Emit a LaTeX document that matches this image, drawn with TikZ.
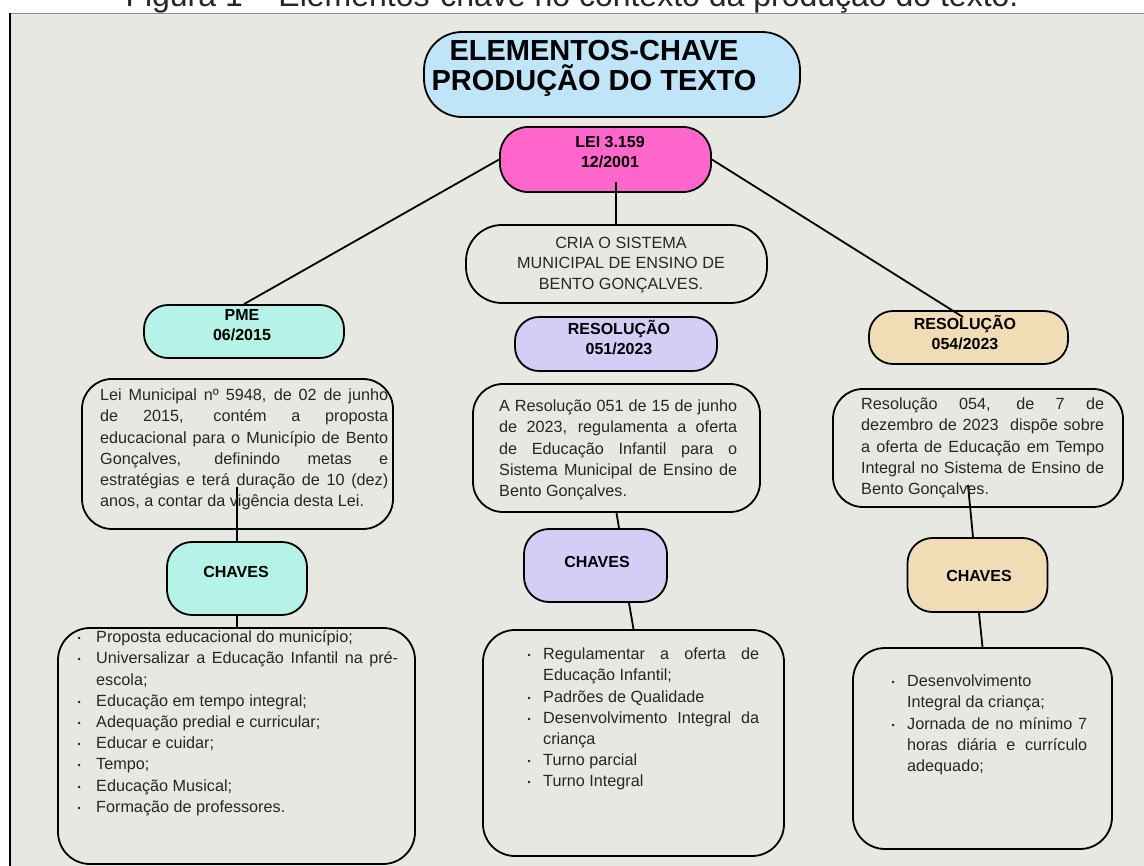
\documentclass[tikz,border=0pt]{standalone}
\usepackage{fontspec}
\setmainfont{Liberation Sans}
\setlength{\parindent}{0pt}
\setlength{\parskip}{0pt}
\lineskiplimit=-100pt
\hyphenpenalty=10000
\tolerance=10000
\hbadness=10000
\definecolor{panel}{HTML}{E8E8E3}
\definecolor{titleblue}{HTML}{C0E4F8}
\definecolor{leipink}{HTML}{FF66CC}
\definecolor{cyanbox}{HTML}{B5F2E8}
\definecolor{lavbox}{HTML}{D4CDF5}
\definecolor{tanbox}{HTML}{F1DDB5}
\definecolor{txtgray}{HTML}{262626}
\definecolor{topline}{HTML}{8C8C8C}
\newcommand{\itm}[1]{\leavevmode\llap{\raisebox{1pt}{\fontsize{9}{9}\selectfont\textbullet}\hspace{#1}}\ignorespaces}
\tikzset{
  rbox/.style={draw=black, line width=1.8pt, rounded corners=#1, inner sep=0pt, fill=panel},
  rbox/.default=25pt,
  conn/.style={draw=black, line width=1.8pt},
  lbl/.style={inner sep=0pt, align=center, text=black, font=\bfseries\fontsize{16}{20}\selectfont},
  body/.style={inner sep=0pt, text=txtgray, font=\fontsize{16.2}{21.2}\selectfont, align=justify, anchor=north west},
}
\begin{document}
\begin{tikzpicture}[x=1pt,y=-1pt]
\useasboundingbox (0,0) rectangle (1144,866);
\clip (0,0) rectangle (1144,866);
\fill[white] (0,0) rectangle (1144,866);
\node[inner sep=0pt, anchor=base, text=txtgray, font=\fontsize{32}{32}\selectfont] (cap) at (572,7) {Figura 1 – Elementos-chave no contexto da produção do texto.};
\fill[panel] (10,13) rectangle (1144,866);
\draw[topline, line width=1.5pt] (10,13.5) -- (1144,13.5);
\draw[black, line width=2pt] (10,13) -- (10,866);

% boxes
\node[rbox=38pt, fill=titleblue, minimum width=376pt, minimum height=85pt] (title) at (612,74.5) {};
\node[rbox=28pt, fill=leipink, minimum width=211pt, minimum height=65pt] (lei) at (605.5,159.5) {};
\node[rbox=36pt, minimum width=301pt, minimum height=78pt] (cria) at (616.5,264) {};
\node[rbox=24pt, fill=cyanbox, minimum width=200pt, minimum height=53pt] (pme) at (244,331.5) {};
\node[rbox=24pt, fill=lavbox, minimum width=202pt, minimum height=54pt] (res51) at (616,344) {};
\node[rbox=24pt, fill=tanbox, minimum width=199pt, minimum height=53pt] (res54) at (968.5,337.5) {};
\node[rbox=30pt, minimum width=311pt, minimum height=150pt] (pmed) at (237.5,454) {};
\node[rbox=30pt, minimum width=287pt, minimum height=128pt] (d51) at (616.5,448) {};
\node[rbox=30pt, minimum width=290pt, minimum height=118pt] (d54) at (978,448) {};
\node[rbox=25pt, fill=cyanbox, minimum width=140pt, minimum height=73pt] (ch1) at (237,578.5) {};
\node[rbox=25pt, fill=lavbox, minimum width=143pt, minimum height=73pt] (ch2) at (595.5,565.5) {};
\node[rbox=25pt, fill=tanbox, minimum width=140pt, minimum height=74pt] (ch3) at (977.5,575) {};
\node[rbox=32pt, minimum width=357pt, minimum height=236pt] (l1) at (236.5,746) {};
\node[rbox=32pt, minimum width=301pt, minimum height=226pt] (l2) at (633.5,743) {};
\node[rbox=32pt, minimum width=259pt, minimum height=201pt] (l3) at (982.5,748.5) {};

% connectors
\coordinate (leiin) at (616,182);
\coordinate (pmein) at (237,487);
\coordinate (d54in) at (968,485);
\draw[conn] (lei.west) -- (pme.north);
\draw[conn] (lei.east) -- ([xshift=-5.5pt,yshift=-7pt]res54.north);
\draw[conn] (leiin) -- (leiin |- cria.north);
\draw[conn] (pmein) -- (pmein |- ch1.north);
\draw[conn] (ch1.south) -- (ch1.south |- l1.north);
\draw[conn] (d51.south) -- ([xshift=23.5pt]ch2.north);
\draw[conn] ([xshift=33.5pt]ch2.south) -- (l2.north);
\draw[conn] (d54in) -- ([xshift=-4.5pt]ch3.north);
\draw[conn] ([xshift=1.5pt]ch3.south) -- (l3.north);

% labels
\node[lbl, anchor=north, font=\bfseries\fontsize{29}{30}\selectfont] (titletxt) at (594,39) {\strut ELEMENTOS-CHAVE\\PRODUÇÃO DO TEXTO};
\node[lbl, anchor=north] (leitxt) at (610,133.7) {\strut LEI 3.159\\12/2001};
\node[inner sep=0pt, align=center, text=txtgray, font=\fontsize{16.2}{20.5}\selectfont, anchor=north] (criatxt) at (621,233.5) {\strut CRIA O SISTEMA\\MUNICIPAL DE ENSINO DE\\BENTO GONÇALVES.};
\node[lbl, anchor=north] (pmetxt) at (242,306.7) {\strut PME\\06/2015};
\node[lbl, anchor=north] (res51txt) at (619,319.7) {\strut RESOLUÇÃO\\051/2023};
\node[lbl, anchor=north] (res54txt) at (965,314.7) {\strut RESOLUÇÃO\\054/2023};
\node[lbl] (ch1txt) at (236,572) {CHAVES};
\node[lbl] (ch2txt) at (597,562) {CHAVES};
\node[lbl] (ch3txt) at (979,576) {CHAVES};

% descriptions
\node[body, text width=288pt] (pmedtxt) at (100,385.66) {\strut Lei Municipal nº 5948, de 02 de junho\linebreak de 2015, contém a proposta\linebreak educacional para o Município de Bento\linebreak Gonçalves, definindo metas e\linebreak estratégias e terá duração de 10 (dez)\linebreak anos, a contar da vigência desta Lei.};
\node[body, text width=238pt] (d51txt) at (499,396.66) {\strut A Resolução 051 de 15 de junho\linebreak de 2023, regulamenta a oferta\linebreak de Educação Infantil para o\linebreak Sistema Municipal de Ensino de\linebreak Bento Gonçalves.};
\node[body, text width=243pt] (d54txt) at (861,394.66) {\strut Resolução 054, de 7 de\linebreak dezembro de 2023~ dispõe sobre\linebreak a oferta de Educação em Tempo\linebreak Integral no Sistema de Ensino de\linebreak Bento Gonçalves.};

% lists
\node[body, text width=302pt] (l1txt) at (96,627.66) {%
\itm{15.4pt}\strut Proposta educacional do município;\par
\itm{15.4pt}Universalizar a Educação Infantil na pré-\linebreak escola;\par
\itm{15.4pt}Educação em tempo integral;\par
\itm{15.4pt}Adequação predial e curricular;\par
\itm{15.4pt}Educar e cuidar;\par
\itm{15.4pt}Tempo;\par
\itm{15.4pt}Educação Musical;\par
\itm{15.4pt}Formação de professores.};
\node[body, text width=216pt] (l2txt) at (543,644.66) {%
\itm{12.4pt}\strut Regulamentar a oferta de\linebreak Educação Infantil;\par
\itm{12.4pt}Padrões de Qualidade\par
\itm{12.4pt}Desenvolvimento Integral da\linebreak criança\par
\itm{12.4pt}Turno parcial\par
\itm{12.4pt}Turno Integral};
\node[body, text width=180pt] (l3txt) at (907,671.66) {%
\itm{12.4pt}\strut Desenvolvimento\newline Integral da criança;\par
\itm{12.4pt}Jornada de no mínimo 7\linebreak horas diária e currículo\linebreak adequado;};
\end{tikzpicture}
\end{document}
